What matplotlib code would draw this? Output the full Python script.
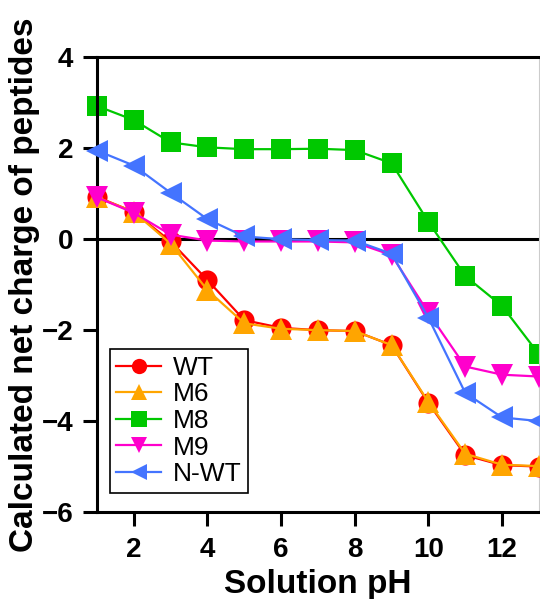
import matplotlib
matplotlib.use("Agg")
import matplotlib.pyplot as plt
from matplotlib.lines import Line2D

plt.rcParams['font.family'] = ['Liberation Sans', 'DejaVu Sans']

ph = [1, 2, 3, 4, 5, 6, 7, 8, 9, 10, 11, 12, 13]
wt = [0.93, 0.6, -0.05, -0.9, -1.78, -1.95, -2.0, -2.02, -2.33, -3.6, -4.75, -4.97, -5.0]
m6 = [0.92, 0.6, -0.1, -1.12, -1.85, -1.97, -2.0, -2.02, -2.33, -3.58, -4.72, -4.96, -4.99]
m8 = [2.93, 2.62, 2.13, 2.02, 1.98, 1.98, 1.99, 1.96, 1.67, 0.38, -0.81, -1.47, -2.53]
m9 = [0.92, 0.58, 0.1, -0.03, -0.05, -0.05, -0.05, -0.07, -0.35, -1.62, -2.8, -2.98, -3.02]
nwt = [1.95, 1.62, 1.02, 0.44, 0.06, 0.0, -0.02, -0.03, -0.32, -1.73, -3.38, -3.92, -4.0]

labels = ['WT', 'M6', 'M8', 'M9', 'N-WT']
colors = ['#FF0000', '#FFA500', '#00C800', '#FF00CC', '#4474FF']
markers = ['o', '^', 's', 'v', '<']
series = [wt, m6, m8, m9, nwt]
zorders = [3, 4, 2, 5, 6]
msizes = [14.5, 15.5, 14.5, 15.5, 15.5]

fig = plt.figure(figsize=(5.40, 5.99), dpi=100)
ax = fig.add_axes([0.1796, 0.1452, 0.8184, 0.7591])

ax.axhline(0, color='black', lw=2.2, zorder=1)

handles = []
for lab, c, m, ys, z, ms in zip(labels, colors, markers, series, zorders, msizes):
    ax.plot(ph, ys, color=c, marker=m, markersize=ms, lw=1.6, zorder=z,
            markeredgewidth=0, clip_on=False)
    handles.append(Line2D([], [], color=c, marker=m, markersize=11, lw=1.6,
                          markeredgewidth=0))

ax.set_xlim(1, 13)
ax.set_ylim(-6, 4)
ax.set_xticks([2, 4, 6, 8, 10, 12])
ax.set_yticks([-6, -4, -2, 0, 2, 4])

for s in ['left', 'bottom', 'top']:
    ax.spines[s].set_linewidth(2.2)
    ax.spines[s].set_color('black')
ax.spines['right'].set_linewidth(0.8)
ax.spines['right'].set_color('#cccccc')

ax.tick_params(axis='both', direction='out', length=10, width=2.2,
               labelsize=20, right=False, top=False)
ax.tick_params(axis='x', pad=8)
ax.tick_params(axis='y', pad=7)
for t in ax.get_xticklabels() + ax.get_yticklabels():
    t.set_fontweight('bold')

ax.set_xlabel('Solution pH', fontsize=24, fontweight='bold', labelpad=4)
ax.set_ylabel('Calculated net charge of peptides', fontsize=24,
              fontweight='bold', labelpad=1)

leg = ax.legend(handles, labels, loc='lower left',
                bbox_to_anchor=(0.029, 0.042), fontsize=19, frameon=True,
                fancybox=False, edgecolor='black', framealpha=1,
                handlelength=1.7, handletextpad=0.45, labelspacing=0.1,
                borderpad=0.25, borderaxespad=0)
leg.get_frame().set_linewidth(1.2)

fig.savefig('out.png', dpi=100)
